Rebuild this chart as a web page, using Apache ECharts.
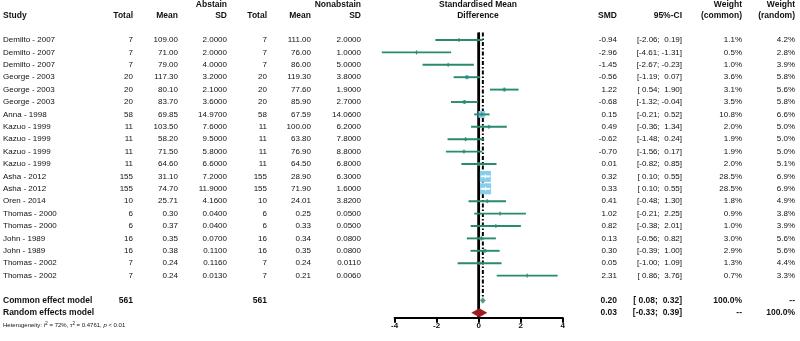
<!DOCTYPE html>
<html><head><meta charset="utf-8">
<script src="https://cdn.jsdelivr.net/npm/echarts@6/dist/echarts.min.js"></script>
<style>html,body{margin:0;padding:0;background:#fff}#c{width:800px;height:341px}</style>
</head><body><div id="c"></div>
<script>
const studies = ["Demilto - 2007","Demilto - 2007","Demilto - 2007","George - 2003","George - 2003","George - 2003","Anna - 1998","Kazuo - 1999","Kazuo - 1999","Kazuo - 1999","Kazuo - 1999","Asha - 2012","Asha - 2012","Oren - 2014","Thomas - 2000","Thomas - 2000","John - 1989","John - 1989","Thomas - 2002","Thomas - 2002"];
const abstainTotal = [7,7,7,20,20,20,58,11,11,11,11,155,155,10,6,6,16,16,7,7];
const abstainMean = [109.00,71.00,79.00,117.30,80.10,83.70,69.85,103.50,58.20,71.50,64.60,31.10,74.70,25.71,0.30,0.37,0.35,0.38,0.24,0.24];
const abstainSD = [2.0,2.0,4.0,3.2,2.1,3.6,14.97,7.6,9.5,5.8,6.6,7.2,11.9,4.16,0.04,0.04,0.07,0.11,0.116,0.013];
const nonTotal = [7,7,7,20,20,20,58,11,11,11,11,155,155,10,6,6,16,16,7,7];
const nonMean = [111.00,76.00,86.00,119.30,77.60,85.90,67.59,100.00,63.80,76.90,64.50,28.90,71.90,24.01,0.25,0.33,0.34,0.35,0.24,0.21];
const nonSD = [2.0,1.0,5.0,3.8,1.9,2.7,14.06,6.2,7.8,8.8,6.8,6.3,1.6,3.82,0.05,0.05,0.08,0.08,0.011,0.006];
const smd = [-0.94,-2.96,-1.45,-0.56,1.22,-0.68,0.15,0.49,-0.62,-0.70,0.01,0.32,0.33,0.41,1.02,0.82,0.13,0.30,0.05,2.31];
const ciLow = [-2.06,-4.61,-2.67,-1.19,0.54,-1.32,-0.21,-0.36,-1.48,-1.56,-0.82,0.10,0.10,-0.48,-0.21,-0.38,-0.56,-0.39,-1.00,0.86];
const ciHigh = [0.19,-1.31,-0.23,0.07,1.90,-0.04,0.52,1.34,0.24,0.17,0.85,0.55,0.55,1.30,2.25,2.01,0.82,1.00,1.09,3.76];
const weightCommon = [1.1,0.5,1.0,3.6,3.1,3.5,10.8,2.0,1.9,1.9,2.0,28.5,28.5,1.8,0.9,1.0,3.0,2.9,1.3,0.7];
const weightRandom = [4.2,2.8,3.9,5.8,5.6,5.8,6.6,5.0,5.0,5.0,5.1,6.9,6.9,4.9,3.8,3.9,5.6,5.6,4.4,3.3];
const summaryLabels = ["Common effect model","Random effects model"];
const summaryTotals = [561, null];
const summarySMD = [0.20, 0.03];
const summaryLow = [0.08, -0.33];
const summaryHigh = [0.32, 0.39];
const summaryWCommon = ["100.0%","--"];
const summaryWRandom = ["--","100.0%"];
const xTicks = [-4,-2,0,2,4];

const FONT = "'Liberation Sans', Arial, sans-serif";
const TXT = '#111111';
const colX = {study:3, aTotal:133, aMean:178, aSD:227, nTotal:267, nMean:311, nSD:361, smd:617, ci:682, wc:742, wr:795};
const nRows = studies.length;
const rowSummary0 = nRows + 1;

function pad(v){ const s=v.toFixed(2); return v<0 ? s : ' '+s; }
function ciStr(lo,hi){ return '[' + pad(lo) + '; ' + pad(hi) + ']'; }
function pct(v){ return v.toFixed(1)+'%'; }

function txt(x,y,text,align,bold,size){
  return {type:'text', x:x, y:y, style:{text:text, align:align, verticalAlign:'middle', textAlign:align, textVerticalAlign:'middle', fill:TXT, font:(bold?'bold ':'')+(size||8)+'px '+FONT}};
}
function hdr(x,y,text,align){
  return {type:'text', x:x, y:y, style:{text:text, align:align, verticalAlign:'middle', fill:TXT, font:'bold 8.5px '+FONT}};
}

const tableData = studies.map((s,i)=>i);
const forestData = studies.map((s,i)=>[i, ciLow[i], smd[i], ciHigh[i], weightCommon[i]]);
const summaryData = summaryLabels.map((s,k)=>[rowSummary0+k, summaryLow[k], summarySMD[k], summaryHigh[k], k]);

const chart = echarts.init(document.getElementById('c'), null, {renderer:'canvas'});
const option = {
  animation:false,
  backgroundColor:'#fff',
  grid:{left:394.6, right:237.3, top:32.56, height:285.2},
  xAxis:{type:'value', min:-4, max:4, interval:2, position:'bottom',
    axisLine:{show:true, onZero:false, lineStyle:{color:'#000', width:2}},
    axisTick:{show:true, length:5, lineStyle:{color:'#000', width:2}},
    splitLine:{show:false},
    axisLabel:{color:'#111', fontSize:8, fontWeight:'bold', fontFamily:FONT, margin:4.5,
      formatter:v=> xTicks.includes(v)? String(v):''}},
  yAxis:{type:'value', min:-0.6, max:22.4, inverse:true, show:false},
  graphic:[
    hdr(227,5,'Abstain','right'),
    hdr(361,5,'Nonabstain','right'),
    hdr(478,5,'Standardised Mean','center'),
    hdr(478,16,'Difference','center'),
    hdr(742,5,'Weight','right'),
    hdr(795,5,'Weight','right'),
    hdr(3,16,'Study','left'),
    hdr(133,16,'Total','right'),
    hdr(178,16,'Mean','right'),
    hdr(227,16,'SD','right'),
    hdr(267,16,'Total','right'),
    hdr(311,16,'Mean','right'),
    hdr(361,16,'SD','right'),
    hdr(617,16,'SMD','right'),
    hdr(682,16,'95%-CI','right'),
    hdr(742,16,'(common)','right'),
    hdr(795,16,'(random)','right')
  ],
  series:[
    { // reference lines
      type:'custom', clip:false, silent:true, z:1,
      data:[[0]],
      renderItem:(p,api)=>{
        const a=api.coord([0,-0.6]), b=api.coord([0,22.4]);
        const c=api.coord([summarySMD[0],-0.6]), d=api.coord([summarySMD[0],20.7]);
        const e=api.coord([summarySMD[1],-0.6]), f=api.coord([summarySMD[1],20.7]);
        return {type:'group', children:[
          {type:'line', shape:{x1:e[0],y1:e[1],x2:f[0],y2:f[1]}, style:{stroke:'#000', lineWidth:1.5, lineDash:[1.5,2]}},
          {type:'line', shape:{x1:a[0],y1:a[1],x2:b[0],y2:b[1]}, style:{stroke:'#000', lineWidth:2.8}},
          {type:'line', shape:{x1:c[0],y1:c[1],x2:d[0],y2:d[1]}, style:{stroke:'#000', lineWidth:2, lineDash:[4,2,1.5,2]}}
        ]};
      }
    },
    { // study CIs and squares
      type:'custom', clip:false, silent:true, z:3,
      data:forestData,
      renderItem:(p,api)=>{
        const i=api.value(0), lo=api.value(1), est=api.value(2), hi=api.value(3), w=api.value(4);
        const pl=api.coord([lo,i]), pc=api.coord([est,i]), ph=api.coord([hi,i]);
        const side = Math.max(2, 11*Math.sqrt(w/28.5));
        const inside = (pl[0] >= pc[0]-side/2) && (ph[0] <= pc[0]+side/2);
        return {type:'group', children:[
          {type:'rect', shape:{x:pc[0]-side/2, y:pc[1]-side/2, width:side, height:side}, style:{fill:'#87CEEB'}},
          {type:'line', shape:{x1:pl[0],y1:pl[1],x2:ph[0],y2:ph[1]}, style:{stroke: inside?'#ffffff':'#2A8A6C', lineWidth:1.9}},
          {type:'line', shape:{x1:pc[0],y1:pc[1]-2,x2:pc[0],y2:pc[1]+2}, style:{stroke: inside?'#ffffff':'#2A8A6C', lineWidth:1}}
        ]};
      }
    },
    { // summary diamonds
      type:'custom', clip:false, silent:true, z:3,
      data:summaryData,
      renderItem:(p,api)=>{
        const r=api.value(0), lo=api.value(1), est=api.value(2), hi=api.value(3), k=api.value(4);
        const pl=api.coord([lo,r]), pc=api.coord([est,r]), ph=api.coord([hi,r]);
        const h = k===0 ? 3 : 4.2;
        return {type:'polygon', shape:{points:[[pl[0],pc[1]],[pc[0],pc[1]-h],[ph[0],pc[1]],[pc[0],pc[1]+h]]},
          style:{fill: k===0 ? '#4F9A84' : '#9B1B1F', stroke: k===0 ? '#4F9A84' : '#9B1B1F', lineWidth:0.5}};
      }
    },
    { // table text
      type:'custom', clip:false, silent:true, z:4,
      data:tableData,
      renderItem:(p,api)=>{
        const i=api.value(0);
        const y=api.coord([0,i])[1];
        return {type:'group', children:[
          txt(colX.study,y,studies[i],'left'),
          txt(colX.aTotal,y,String(abstainTotal[i]),'right'),
          txt(colX.aMean,y,abstainMean[i].toFixed(2),'right'),
          txt(colX.aSD,y,abstainSD[i].toFixed(4),'right'),
          txt(colX.nTotal,y,String(nonTotal[i]),'right'),
          txt(colX.nMean,y,nonMean[i].toFixed(2),'right'),
          txt(colX.nSD,y,nonSD[i].toFixed(4),'right'),
          txt(colX.smd,y,smd[i].toFixed(2),'right'),
          txt(colX.ci,y,ciStr(ciLow[i],ciHigh[i]),'right'),
          txt(colX.wc,y,pct(weightCommon[i]),'right'),
          txt(colX.wr,y,pct(weightRandom[i]),'right')
        ]};
      }
    },
    { // summary text
      type:'custom', clip:false, silent:true, z:4,
      data:summaryData,
      renderItem:(p,api)=>{
        const r=api.value(0), k=api.value(4);
        const y=api.coord([0,r])[1];
        const ch=[
          txt(colX.study,y,summaryLabels[k],'left',true,8.5),
          txt(colX.smd,y,summarySMD[k].toFixed(2),'right',true,8.5),
          txt(colX.ci,y,ciStr(summaryLow[k],summaryHigh[k]),'right',true,8.5),
          txt(colX.wc,y,summaryWCommon[k],'right',true,8.5),
          txt(colX.wr,y,summaryWRandom[k],'right',true,8.5)
        ];
        if(summaryTotals[k]!==null){
          ch.push(txt(colX.aTotal,y,String(summaryTotals[k]),'right',true,8.5));
          ch.push(txt(colX.nTotal,y,String(summaryTotals[k]),'right',true,8.5));
        }
        if(k===1){
          const y2=api.coord([0,r+1])[1];
          ch.push({type:'text', x:colX.study, y:y2, style:{
            text:'{n|Heterogeneity: }{i|I}{s|2}{n| = 72%, τ}{s|2}{n| = 0.4761, }{i|p}{n| < 0.01}',
            align:'left', verticalAlign:'middle', fill:TXT, font:'6px '+FONT,
            rich:{n:{fontSize:6, fontFamily:FONT, fill:TXT}, i:{fontSize:6, fontStyle:'italic', fontFamily:FONT, fill:TXT}, s:{fontSize:4.5, fontFamily:FONT, fill:TXT, verticalAlign:'top', padding:[0,0,3,0]}}
          }});
        }
        return {type:'group', children:ch};
      }
    }
  ]
};
chart.setOption(option);
</script></body></html>
